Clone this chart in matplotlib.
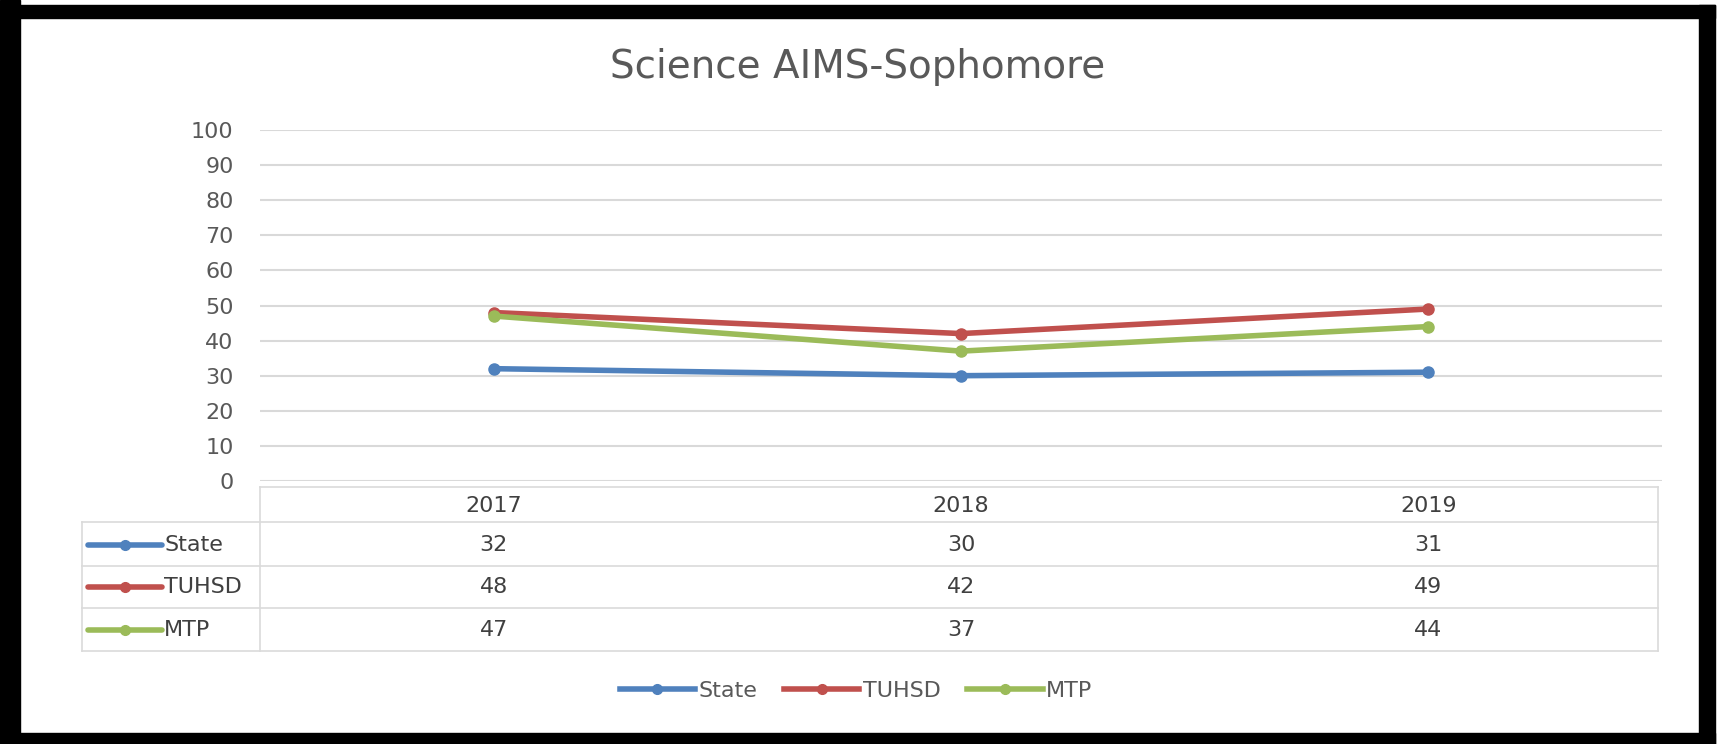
import matplotlib
matplotlib.use("Agg")
import matplotlib.pyplot as plt
from matplotlib.patches import Rectangle
from matplotlib.lines import Line2D
import matplotlib.transforms as mtransforms

# ---- data ----
years = ["2017", "2018", "2019"]
series_names = ["State", "TUHSD", "MTP"]
state = [32, 30, 31]
tuhsd = [48, 42, 49]
mtp = [47, 37, 44]
colors = ["#4F81BD", "#C0504D", "#9BBB59"]
yticks = list(range(0, 101, 10))
title = "Science AIMS-Sophomore"

W, H = 1721, 744
fig = plt.figure(figsize=(W / 100, H / 100), dpi=100)
fig.patch.set_facecolor("white")

def fx(px):
    return px / W

def fy(py):
    return 1 - py / H

FS = 16
FONT = "DejaVu Sans"

# plot area
ax_left, ax_right, ax_top, ax_bot = 260, 1662, 130, 481
ax = fig.add_axes([fx(ax_left), fy(ax_bot), fx(ax_right - ax_left), (ax_bot - ax_top) / H])
ax.set_xlim(-0.5, len(years) - 0.5)
ax.set_ylim(0, 100)
ax.set_yticks(yticks)
ax.set_yticklabels([str(t) for t in yticks], fontsize=FS, color="#595959", family=FONT)
ax.set_xticks([])
for s in ax.spines.values():
    s.set_visible(False)
ax.tick_params(axis="y", length=0, pad=19)
ax.grid(axis="y", color="#D9D9D9", linewidth=1.5)
ax.set_axisbelow(True)

data = [state, tuhsd, mtp]
x = list(range(len(years)))
for name, vals, c in zip(series_names, data, colors):
    ax.plot(x, vals, color=c, linewidth=4, marker="o", markersize=8,
            solid_capstyle="round", label=name, zorder=3)

# title
fig.text(fx(858), fy(67), title, ha="center", va="center", fontsize=28,
         color="#595959", family=FONT)

# ---- data table below plot ----
trans = mtransforms.blended_transform_factory(ax.transData, fig.transFigure)
tcol = "#404040"
line_col = "#DADADA"
header_y = 506
row_ys = [545, 587, 630]
for i, yr in enumerate(years):
    ax.text(i, fy(header_y), yr, transform=trans, ha="center", va="center",
            fontsize=FS, color=tcol, family=FONT)
for r, (name, vals, c) in enumerate(zip(series_names, data, colors)):
    for i, v in enumerate(vals):
        ax.text(i, fy(row_ys[r]), str(v), transform=trans, ha="center", va="center",
                fontsize=FS, color=tcol, family=FONT)
    # legend key in the row header
    fig.add_artist(Line2D([fx(88), fx(162)], [fy(row_ys[r])] * 2, color=c, linewidth=4,
                          solid_capstyle="round"))
    fig.add_artist(Line2D([fx(125)], [fy(row_ys[r])], color=c, marker="o", markersize=7))
    fig.text(fx(164), fy(row_ys[r]), name, ha="left", va="center", fontsize=FS,
             color=tcol, family=FONT)

# table grid lines
tab_right = 1658
for yy in [522, 566, 608, 651]:
    fig.add_artist(Line2D([fx(82), fx(tab_right)], [fy(yy)] * 2, color=line_col, linewidth=1.2))
fig.add_artist(Line2D([fx(ax_left), fx(tab_right)], [fy(487)] * 2, color=line_col, linewidth=1.2))
for xx in [ax_left, tab_right]:
    fig.add_artist(Line2D([fx(xx), fx(xx)], [fy(487), fy(651)], color=line_col, linewidth=1.2))
fig.add_artist(Line2D([fx(82), fx(82)], [fy(522), fy(651)], color=line_col, linewidth=1.2))

# bottom legend
handles = [Line2D([0], [0], color=c, linewidth=4, marker="o", markersize=7) for c in colors]
leg = fig.legend(handles, series_names, loc="center", bbox_to_anchor=(fx(856), fy(691)),
                 ncol=3, frameon=False, handlelength=3.4, columnspacing=1.2,
                 handletextpad=0.15, prop={"family": FONT, "size": FS})
for t in leg.get_texts():
    t.set_color("#595959")

# black frame
black = "#000000"
fig.add_artist(Rectangle((0, fy(744)), fx(20), 1, transform=fig.transFigure, color=black))
fig.add_artist(Rectangle((0, fy(18)), fx(1715), (18 - 5) / H, transform=fig.transFigure, color=black))
fig.add_artist(Rectangle((fx(1699), fy(744)), fx(16), 1 - 5 / H, transform=fig.transFigure, color=black))
fig.add_artist(Rectangle((0, fy(744)), fx(1715), (744 - 733) / H, transform=fig.transFigure, color=black))

fig.savefig("out.png", dpi=100, facecolor="white")
